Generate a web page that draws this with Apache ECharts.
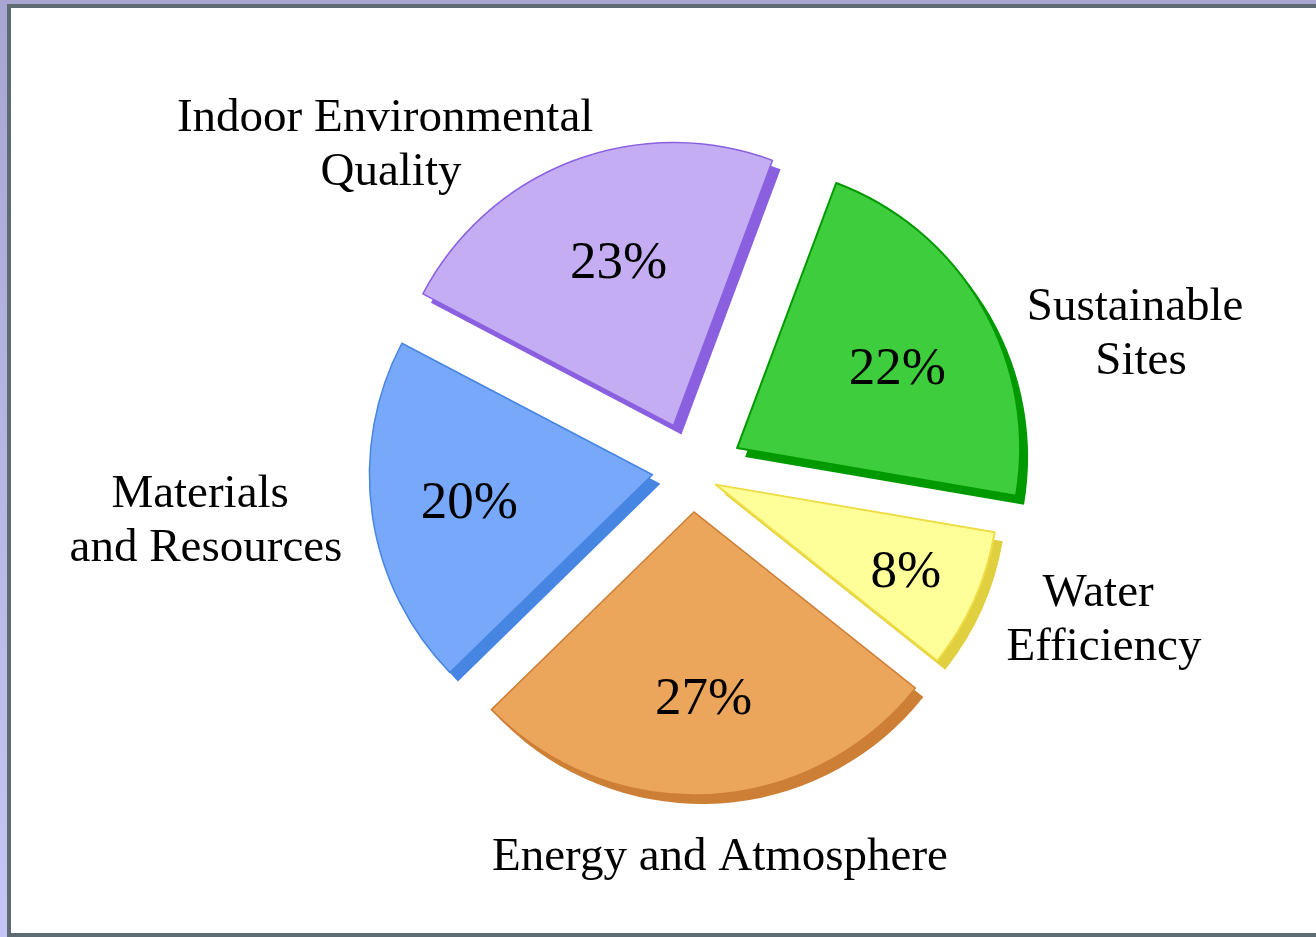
<!DOCTYPE html>
<html>
<head>
<meta charset="utf-8">
<script src="https://cdn.jsdelivr.net/npm/echarts@6/dist/echarts.min.js"></script>
<style>
html, body { margin:0; padding:0; width:1316px; height:937px; overflow:hidden;
  background: linear-gradient(180deg, #a8a5d2 0%, #c6c6f6 100%); }
#frame { position:absolute; left:7px; top:4px; width:1320px; height:925px; background:#fff;
  border:4px solid #5f6b73; border-right:none; }
#chart { position:absolute; left:0; top:0; width:1316px; height:937px; }
</style>
</head>
<body>
<div id="frame"></div>
<div id="chart"></div>
<script>
// ---- data ----
const categories = ['Sustainable Sites', 'Water Efficiency', 'Energy and Atmosphere', 'Materials and Resources', 'Indoor Environmental Quality'];
const values = [22, 8, 27, 20, 23];
const labelNames = ['Sustainable \nSites', 'Water \nEfficiency', 'Energy and Atmosphere', 'Materials \nand Resources', 'Indoor Environmental \nQuality'];

// ---- styles ----
const fillColors   = ['#3dcd3d', '#ffff99', '#eca65c', '#78a8fa', '#c4adf2'];
const edgeColors   = ['#009a00', '#eedd44', '#cd7f36', '#4685e2', '#8a60e0'];
const shadowColors = ['#009a00', '#e0d040', '#cd7f36', '#4685e2', '#8a60e0'];
const explode      = [52, 26, 38, 40, 52];           // px each slice is pulled out
const explodeNudge = [[0, 0], [0, 0], [0, 0], [0, -5], [0, 0]];
const edgeWidths   = [2, 2, 1.5, 1.5, 1.5];
const namePos      = [[1141, 335], [1104, 621], [720, 858], [206, 522], [391, 146]];
const pctNudge     = [[5, 11], [3, 5], [0, -5], [6, -3], [9, 6]];

const CX = 692, CY = 474, R = 283, START = 69.5;
const SH_DX = 8, SH_DY = 9;
const FONT = 'Liberation Serif, Times New Roman, serif';

const total = values.reduce((a, b) => a + b, 0);
let acc = 0;
const mids = values.map(v => { const m = START - (acc + v / 2) / total * 360; acc += v; return m * Math.PI / 180; });

function sliceSeries(i, dx, dy, isShadow) {
  return {
    type: 'pie', silent: true, animation: false, z: isShadow ? 1 : 2,
    center: [CX + explode[i] * Math.cos(mids[i]) + explodeNudge[i][0] + dx,
             CY - explode[i] * Math.sin(mids[i]) + explodeNudge[i][1] + dy],
    radius: R, startAngle: START, clockwise: true, avoidLabelOverlap: false,
    label: { show: false }, labelLine: { show: false },
    emphasis: { disabled: true },
    data: values.map((v, j) => ({
      name: categories[j], value: v,
      itemStyle: j === i
        ? (isShadow ? { color: shadowColors[i], borderWidth: 0 }
                    : { color: fillColors[i], borderColor: edgeColors[i], borderWidth: edgeWidths[i] })
        : { color: 'rgba(0,0,0,0)', borderWidth: 0 }
    }))
  };
}

const series = [];
values.forEach((v, i) => series.push(sliceSeries(i, SH_DX, SH_DY, true)));
values.forEach((v, i) => series.push(sliceSeries(i, 0, 0, false)));

// percentage labels
series.push({
  type: 'pie', silent: true, animation: false, z: 10,
  center: [CX, CY], radius: [200, 256], startAngle: START, avoidLabelOverlap: false,
  itemStyle: { color: 'rgba(0,0,0,0)', borderWidth: 0 },
  emphasis: { disabled: true },
  labelLine: { show: false },
  label: { show: true, position: 'inside', formatter: '{c}%', fontFamily: FONT, fontSize: 53,
           color: '#000', textBorderWidth: 0 },
  labelLayout: p => ({ dx: pctNudge[p.dataIndex][0], dy: pctNudge[p.dataIndex][1] }),
  data: values.map((v, j) => ({ name: categories[j], value: v }))
});

// category name labels
series.push({
  type: 'pie', silent: true, animation: false, z: 10,
  center: [CX, CY], radius: [300, 320], startAngle: START, avoidLabelOverlap: false,
  itemStyle: { color: 'rgba(0,0,0,0)', borderWidth: 0 },
  emphasis: { disabled: true },
  labelLine: { show: false },
  label: { show: true, position: 'inside', formatter: p => labelNames[p.dataIndex],
           fontFamily: FONT, fontSize: 47, lineHeight: 54, color: '#000', textBorderWidth: 0, align: 'center' },
  labelLayout: p => ({ x: namePos[p.dataIndex][0], y: namePos[p.dataIndex][1], align: 'center', verticalAlign: 'middle' }),
  data: values.map((v, j) => ({ name: categories[j], value: v }))
});

const chart = echarts.init(document.getElementById('chart'), null, { renderer: 'canvas' });
chart.setOption({ backgroundColor: 'transparent', animation: false, series });
</script>
</body>
</html>
